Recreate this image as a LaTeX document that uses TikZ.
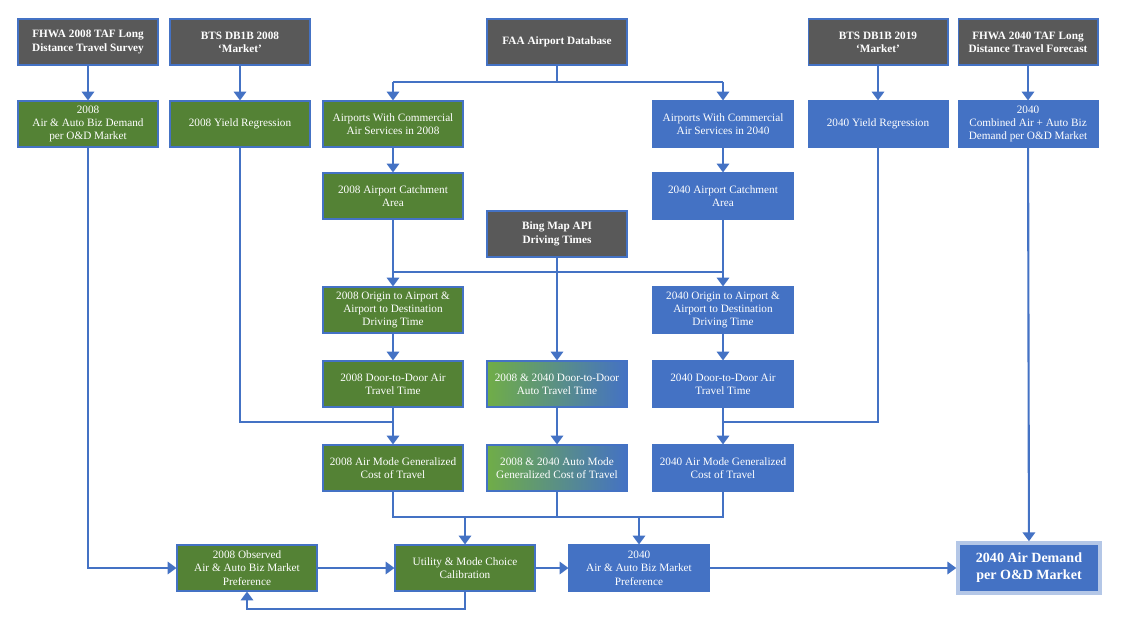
\documentclass[tikz,border=0pt]{standalone}
\usepackage{fontspec}
\setmainfont{Liberation Serif}
\usetikzlibrary{arrows.meta}
\definecolor{srcgrey}{HTML}{595959}
\definecolor{yrgreen}{HTML}{548235}
\definecolor{yrblue}{HTML}{4472C4}
\definecolor{lightgreen}{HTML}{70AD47}
\tikzstyle{box}=[draw=yrblue, line width=0.6pt, text=white, minimum width=2.8cm, minimum height=0.92cm, inner sep=1pt, align=center, font=\fontsize{6.4}{7.6}\selectfont]
\tikzstyle{src}=[box, fill=srcgrey, font=\fontsize{6.4}{7.6}\selectfont\bfseries]
\tikzstyle{old}=[box, fill=yrgreen]
\tikzstyle{new}=[box, fill=yrblue]
\tikzstyle{mix}=[box, left color=lightgreen, right color=yrblue]
\tikzstyle{flow}=[draw=yrblue, line width=1.2pt, -{Triangle[length=5pt,width=7pt]}]
\tikzstyle{line}=[draw=yrblue, line width=1.2pt]

\begin{document}
\begin{tikzpicture}[x=0.02cm, y=-0.02cm]
\useasboundingbox (0,0) rectangle (1128,631);

% sources
\node[src](fhwa08) at (88, 42) {FHWA 2008 TAF Long\\Distance Travel Survey};
\node[src](bts08) at (240, 42) {BTS DB1B 2008\\`Market'};
\node[src](faa) at (557, 42) {FAA Airport Database};
\node[src](bts19) at (878, 42) {BTS DB1B 2019\\`Market'};
\node[src](fhwa40) at (1028, 42) {FHWA 2040 TAF Long\\Distance Travel  Forecast};

% second row
\node[old](dem08) at (88, 124) {2008\\Air \& Auto Biz Demand\\per O\&D Market};
\node[old](yld08) at (240, 124) {2008 Yield Regression};
\node[old](apt08) at (393, 124) {Airports With Commercial\\Air Services in 2008};
\node[new](apt40) at (723, 124) {Airports With Commercial\\Air Services in 2040};
\node[new](yld40) at (878, 124) {2040 Yield Regression};
\node[new](dem40) at (1028, 124) {2040\\Combined Air + Auto Biz\\Demand per O\&D Market};

\node[old](cat08) at (393, 196) {2008 Airport Catchment\\Area};
\node[new](cat40) at (723, 196) {2040 Airport Catchment\\Area};
\node[src](bing) at (557, 234) {Bing Map API\\Driving Times};

\node[old](drv08) at (393, 310) {2008 Origin to Airport \&\\Airport to Destination\\Driving Time};
\node[new](drv40) at (723, 310) {2040 Origin to Airport \&\\Airport to Destination\\Driving Time};

\node[old](air08) at (393, 384) {2008 Door-to-Door Air\\Travel Time};
\node[mix](auto) at (557, 384) {2008 \& 2040 Door-to-Door\\Auto Travel Time};
\node[new](air40) at (723, 384) {2040 Door-to-Door Air\\Travel Time};

\node[old](gc08) at (393, 468) {2008 Air Mode Generalized\\Cost of Travel};
\node[mix](gcauto) at (557, 468) {2008 \& 2040 Auto Mode\\Generalized Cost of Travel};
\node[new](gc40) at (723, 468) {2040 Air Mode Generalized\\Cost of Travel};

\node[old](obs08) at (247, 568) {2008 Observed\\Air \& Auto Biz  Market\\Preference};
\node[old](calib) at (465, 568) {Utility \& Mode Choice\\Calibration};
\node[new](pref40) at (639, 568) {2040\\Air \& Auto Biz  Market\\Preference};
\node[new, font=\fontsize{8}{9.6}\selectfont\bfseries, minimum width=2.84cm, minimum height=1cm, draw=yrblue!40, line width=2pt](final) at (1029, 568) {2040 Air Demand\\per O\&D Market};

% connectors
\draw[flow] (fhwa08) -- (dem08);
\draw[flow] (bts08) -- (yld08);
\draw[flow] (bts19) -- (yld40);
\draw[flow] (fhwa40) -- (dem40);
\draw[line] (faa) -- (557, 82);
\draw[flow] (393, 82) -- (apt08);
\draw[flow] (723, 82) -- (apt40);
\draw[line] (393, 82) -- (723, 82);

\draw[flow] (apt08) -- (cat08);
\draw[flow] (apt40) -- (cat40);
\draw[flow] (cat08) -- (drv08);
\draw[flow] (cat40) -- (drv40);
\draw[line] (393, 272) -- (723, 272);
\draw[flow] (bing) -- (auto);

\draw[flow] (drv08) -- (air08);
\draw[flow] (drv40) -- (air40);
\draw[flow] (air08) -- (gc08);
\draw[flow] (auto) -- (gcauto);
\draw[flow] (air40) -- (gc40);
\draw[line] (yld08) |- (393, 422);
\draw[line] (yld40) |- (723, 422);

\draw[line] (gc08) |- (723, 517) -- (gc40);
\draw[line] (gcauto) -- (557, 517);
\draw[flow] (465, 517) -- (calib);
\draw[flow] (639, 517) -- (pref40);

\draw[flow] (dem08) |- (obs08);
\draw[flow] (obs08) -- (calib);
\draw[flow] (calib) -- (pref40);
\draw[flow] (pref40) -- (final);
\draw[flow] (calib.south) |- (247, 609) -- (obs08.south);
\draw[flow] (dem40) -- (final);
\end{tikzpicture}
\end{document}
